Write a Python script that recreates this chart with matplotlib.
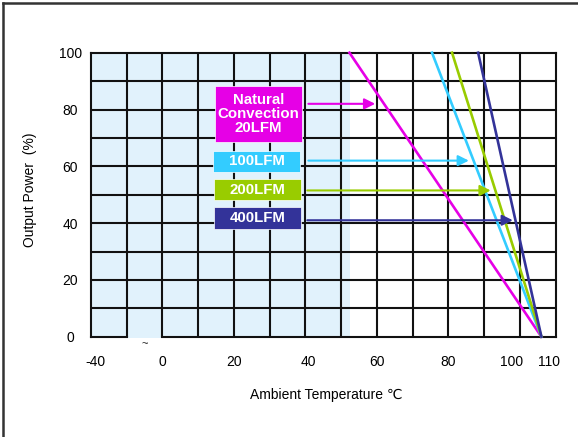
import numpy as np
import matplotlib
matplotlib.use("Agg")
import matplotlib.pyplot as plt
from matplotlib.patches import Rectangle
from matplotlib.lines import Line2D

plt.rcParams['font.family'] = ['Liberation Sans', 'DejaVu Sans']

# ---- data ----
series_names = ["Natural\nConvection\n20LFM", "100LFM", "200LFM", "400LFM"]
series_colors = ["#E600E6", "#33CCFF", "#99CC00", "#333399"]
start_temp = [52.3, 75.4, 81.0, 88.3]      # temperature where output = 100 %
end_temp = [106.0, 106.0, 106.0, 106.0]    # temperature where output = 0 %
power_start = [100, 100, 100, 100]
power_end = [0, 0, 0, 0]
arrow_power = [82, 62, 51.5, 41]
arrow_from = [40.8, 40.8, 40.5, 40.5]
arrow_to = [59.5, 85.7, 91.8, 98.0]
shade_until = 52.5

xtick_values = [-40, 0, 20, 40, 60, 80, 100, 110]
xtick_labels = ["-40", "0", "20", "40", "60", "80", "100", "110"]
xtick_shift_px = [4, 0, 0, 3, 0, 0, -8, -7]
ytick_values = [0, 20, 40, 60, 80, 100]
ytick_labels = ["0", "20", "40", "60", "80", "100"]
vgrid = [-20, 0, 10, 20, 30, 40, 50, 60, 70, 80, 90, 100]
hgrid = [10, 20, 30, 40, 50, 60, 70, 80, 90]


def fwd(t):
    t = np.asarray(t, dtype=float)
    return np.where(t >= 0, 2 + t / 10.0, (t + 40) / 20.0)


def inv(p):
    p = np.asarray(p, dtype=float)
    return np.where(p >= 2, (p - 2) * 10.0, p * 20.0 - 40)


W, H = 578, 437
fig = plt.figure(figsize=(W / 100, H / 100), dpi=100)
L, R, T, B = 91, 555.7, 52.7, 336.7
ax = fig.add_axes([L / W, 1 - B / H, (R - L) / W, (B - T) / H])
ax.set_xscale('function', functions=(fwd, inv))
ax.set_xlim(-40, 110)
ax.set_ylim(0, 100)

# shaded region
ax.axvspan(-40, shade_until, ymin=0, ymax=1, color="#E1F2FC", zorder=0, lw=0)
# extend shading slightly in the break gap
ax.add_patch(Rectangle((-20, -0.6), 20, 0.6, transform=ax.transData,
                       color="#E1F2FC", clip_on=False, zorder=0, lw=0))

gcol = "#111111"
glw = 1.5
for v in vgrid:
    ax.axvline(v, color=gcol, lw=glw, zorder=1)
for h in hgrid:
    ax.axhline(h, color=gcol, lw=glw, zorder=1)

for s in ['top', 'left', 'right']:
    ax.spines[s].set_linewidth(glw)
    ax.spines[s].set_color(gcol)
ax.spines['bottom'].set_visible(False)
# broken bottom axis
ax.plot([-40, -20], [0, 0], color=gcol, lw=glw, clip_on=False, zorder=3,
        solid_capstyle='projecting')
ax.plot([0, 110], [0, 0], color=gcol, lw=glw, clip_on=False, zorder=3,
        solid_capstyle='projecting')
ax.text(-10, -0.8, "~", ha='center', va='top', fontsize=8, color="#222222")

# derating lines
for i in range(len(series_names)):
    ax.plot([start_temp[i], end_temp[i]], [power_start[i], power_end[i]],
            color=series_colors[i], lw=1.9, zorder=4, clip_on=False)

# arrows
for i in range(len(series_names)):
    ax.annotate('', xy=(arrow_to[i], arrow_power[i]),
                xytext=(arrow_from[i], arrow_power[i]),
                arrowprops=dict(arrowstyle='-|>', color=series_colors[i],
                                lw=1.5, mutation_scale=16, shrinkA=0, shrinkB=0),
                zorder=5)

# label boxes (axes fraction)
boxes = [(0.2668, 0.6845, 0.4534, 0.8827),
         (0.2632, 0.5810, 0.4498, 0.6549),
         (0.2647, 0.4813, 0.4517, 0.5553),
         (0.2647, 0.3803, 0.4517, 0.4556)]
for i, (x0, y0, x1, y1) in enumerate(boxes):
    ax.add_patch(Rectangle((x0, y0), x1 - x0, y1 - y0, transform=ax.transAxes,
                           facecolor=series_colors[i], edgecolor='white',
                           lw=0.5, zorder=6))
    ax.text((x0 + x1) / 2, (y0 + y1) / 2, series_names[i], transform=ax.transAxes,
            ha='center', va='center', color='white', fontweight='bold',
            fontsize=10.8, linespacing=1.0, zorder=7)

# ticks
ax.set_yticks(ytick_values, ytick_labels)
ax.tick_params(axis='y', length=0, pad=15, labelsize=10)
for lbl in ax.get_yticklabels():
    lbl.set_horizontalalignment('center')
ax.set_xticks([])
for v, lab, dx in zip(xtick_values, xtick_labels, xtick_shift_px):
    ax.annotate(lab, xy=(v, 0), xycoords=('data', 'axes fraction'),
                xytext=(dx, -25), textcoords='offset pixels',
                ha='center', va='center', fontsize=10)

fig.text(30 / W, 1 - 190 / H, "Output Power  (%)", rotation=90,
         ha='center', va='center', fontsize=10)
fig.text(326 / W, 1 - 395 / H, "Ambient Temperature ℃",
         ha='center', va='center', fontsize=10)

# outer frame (left and top edges)
fig.add_artist(Line2D([2.7 / W, 2.7 / W], [0, 1 - 3.3 / H], color="#333333",
                      lw=1.8, transform=fig.transFigure))
fig.add_artist(Line2D([2.7 / W, 1], [1 - 3.3 / H, 1 - 3.3 / H], color="#333333",
                      lw=1.8, transform=fig.transFigure))

fig.savefig("out.png", dpi=100)
